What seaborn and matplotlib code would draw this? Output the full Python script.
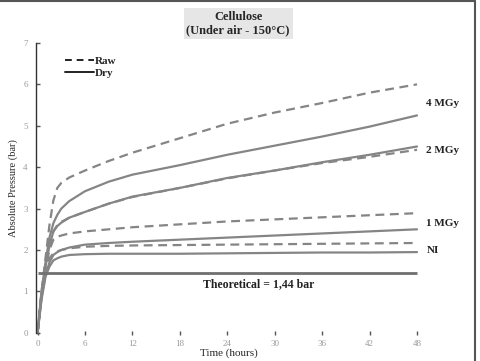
import seaborn as sns
import pandas as pd
import matplotlib.pyplot as plt
from matplotlib.lines import Line2D

# time (hours)
time = [0, 0.5, 1, 1.5, 2, 2.5, 3, 4, 6, 9, 12, 18, 24, 30, 36, 42, 48]

raw_4 = [0, 1.0, 1.8, 2.6, 3.2, 3.5, 3.62, 3.75, 3.92, 4.15, 4.35, 4.7, 5.05, 5.32, 5.55, 5.8, 6.0]
dry_4 = [0, 1.0, 1.7, 2.3, 2.65, 2.85, 3.0, 3.18, 3.42, 3.65, 3.82, 4.05, 4.3, 4.52, 4.74, 4.98, 5.25]
raw_2 = [0, 0.95, 1.6, 2.1, 2.45, 2.6, 2.68, 2.78, 2.92, 3.12, 3.28, 3.5, 3.73, 3.92, 4.1, 4.25, 4.42]
dry_2 = [0, 0.95, 1.6, 2.1, 2.45, 2.58, 2.66, 2.78, 2.92, 3.12, 3.29, 3.5, 3.74, 3.92, 4.12, 4.3, 4.5]
raw_1 = [0, 0.9, 1.55, 2.0, 2.25, 2.32, 2.35, 2.4, 2.45, 2.5, 2.55, 2.62, 2.69, 2.74, 2.79, 2.84, 2.89]
dry_1 = [0, 0.85, 1.4, 1.7, 1.88, 1.95, 2.0, 2.06, 2.13, 2.17, 2.2, 2.25, 2.3, 2.35, 2.4, 2.45, 2.5]
raw_ni = [0, 0.9, 1.5, 1.8, 1.92, 1.97, 2.0, 2.04, 2.08, 2.1, 2.11, 2.12, 2.13, 2.14, 2.15, 2.16, 2.17]
dry_ni = [0, 0.8, 1.35, 1.6, 1.75, 1.8, 1.84, 1.88, 1.9, 1.91, 1.91, 1.91, 1.92, 1.93, 1.94, 1.94, 1.95]

theoretical = 1.44
dose_labels = ['4 MGy', '2 MGy', '1 MGy', 'NI']
dose_label_y = [5.55, 4.4, 2.65, 2.0]

series = {
    ('4 MGy', 'Raw'): raw_4, ('4 MGy', 'Dry'): dry_4,
    ('2 MGy', 'Raw'): raw_2, ('2 MGy', 'Dry'): dry_2,
    ('1 MGy', 'Raw'): raw_1, ('1 MGy', 'Dry'): dry_1,
    ('NI', 'Raw'): raw_ni, ('NI', 'Dry'): dry_ni,
}
rows = []
for (dose, cond), vals in series.items():
    for t, v in zip(time, vals):
        rows.append({'time': t, 'pressure': v, 'dose': dose, 'cond': cond})
df = pd.DataFrame(rows)

sns.set_theme(style='white')
plt.rcParams['font.family'] = ['Liberation Serif', 'DejaVu Serif']

fig = plt.figure(figsize=(4.8, 3.61), dpi=100)
ax = fig.add_axes([0.075, 0.078, 0.802, 0.803])

gray = '#858585'
sns.lineplot(data=df, x='time', y='pressure', hue='dose', style='cond',
             palette=[gray] * 4, dashes={'Raw': (4, 2.5), 'Dry': ''},
             linewidth=1.6, legend=False, ax=ax, estimator=None, units='dose')
ax.hlines(theoretical, 0, 48, color='#707070', linewidth=2)

ax.set_xlim(-0.2, 48.5)
ax.set_ylim(0, 7)
ax.set_xticks(range(0, 49, 6))
ax.set_yticks(range(0, 8))
for s in ['top', 'right', 'bottom']:
    ax.spines[s].set_visible(False)
ax.spines['left'].set_color('#333333')
ax.spines['left'].set_linewidth(1)
ax.tick_params(axis='both', labelsize=6.5, labelcolor='#999999', colors='#555555',
               direction='in', length=3, width=1, pad=6, bottom=True, left=True)
ax.tick_params(axis='x', direction='inout', length=3, pad=4)
ax.set_xlabel('Time (hours)', fontsize=8, labelpad=0)
ax.set_ylabel('Absolute Pressure (bar)', fontsize=7.5, labelpad=4)

for lab, y in zip(dose_labels, dose_label_y):
    ax.text(49.2, y, lab, fontsize=8, fontweight='bold', va='center', ha='left',
            color='#222222')
ax.text(28, 1.18, 'Theoretical = 1,44 bar', fontsize=8.5, fontweight='bold',
        ha='center', va='center', color='#222222')

handles = [Line2D([], [], color='#222222', lw=1.4, dashes=(3.5, 2.5)),
           Line2D([], [], color='#222222', lw=1.4)]
leg = ax.legend(handles, ['Raw', 'Dry'], loc='upper left', bbox_to_anchor=(0.05, 0.99),
                frameon=False, fontsize=8, handlelength=2.6, handletextpad=0.1,
                labelspacing=0.25)
for txt in leg.get_texts():
    txt.set_fontweight('bold')

fig.text(0.496, 0.935, 'Cellulose\n(Under air - 150°C)', ha='center', va='center',
         fontsize=9, fontweight='bold', linespacing=1.2,
         bbox=dict(facecolor='#e6e6e6', edgecolor='none', pad=2))

# image frame (top and right edges)
fig.add_artist(Line2D([0, 0.99], [0.996, 0.996], transform=fig.transFigure,
                      color='#555555', lw=1.5))
fig.add_artist(Line2D([0.99, 0.99], [0, 0.996], transform=fig.transFigure,
                      color='#555555', lw=1.5))

fig.savefig('out.png', dpi=100)
